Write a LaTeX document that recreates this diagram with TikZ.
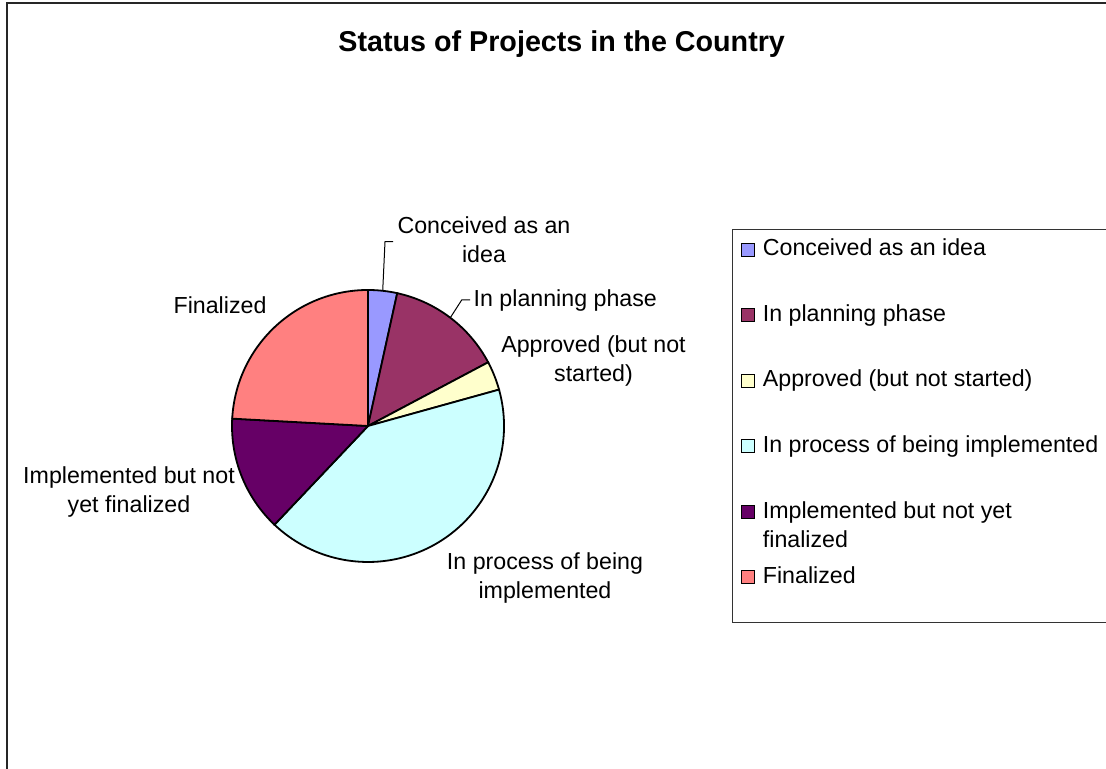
\documentclass[tikz,border=0pt]{standalone}
\usepackage{fontspec}
\setmainfont{Liberation Sans}
\usepackage{tikz}
\usetikzlibrary{calc}
\definecolor{idea}{HTML}{9999FF}
\definecolor{planning}{HTML}{993366}
\definecolor{approved}{HTML}{FFFFCC}
\definecolor{process}{HTML}{CCFFFF}
\definecolor{implemented}{HTML}{660066}
\definecolor{finalized}{HTML}{FF8080}
\def\pieslice[#1](#2)(#3:#4:#5){\draw[#1] (#2) -- ($(#2)+({#5*cos(#3)},{#5*sin(#3)})$) arc (#3:#4:#5) -- cycle;}
\tikzset{
	lbl/.style={font=\fontsize{11.6}{14.5}\selectfont, inner sep=0pt, align=center},
	keybox/.style={draw=black, line width=0.5pt},
	slice/.style={draw=black, line width=0.9pt}
}

\begin{document}
\begin{tikzpicture}[x=0.5pt, y=0.5pt]
		%%%%% START %%%%%
		\useasboundingbox (0, 0) rectangle (1106, 769);
		\draw[line width=0.75pt, color=black!85] (7, 766) rectangle (1120, -20);
		
		\node[font=\bfseries\fontsize{14.35}{17}\selectfont, anchor=base, inner sep=0pt] (title) at (561.7, 717.3) {Status of Projects in the Country};
		
		\coordinate (O) at (368, 343);
		\pieslice[slice, fill=idea](O)(90:77.59:136);
		\pieslice[slice, fill=planning](O)(77.59:27.93:136);
		\pieslice[slice, fill=approved](O)(27.93:15.52:136);
		\pieslice[slice, fill=process](O)(15.52:-133.45:136);
		\pieslice[slice, fill=implemented](O)(-133.45:-183.10:136);
		\pieslice[slice, fill=finalized](O)(-183.10:-270:136);
		
		\node[lbl, anchor=north] (conc) at (484, 552.6) {Conceived as an\\idea};
		\node[lbl, anchor=base west] (plan) at (473.3, 462.3) {In planning phase};
		\node[lbl, anchor=north] (appr) at (593.5, 434.2) {Approved (but not\\started)};
		\node[lbl, anchor=north] (proc) at (545, 216.6) {In process of being\\implemented};
		\node[lbl, anchor=north] (impl) at (129, 302.6) {Implemented but not\\yet finalized};
		\node[lbl, anchor=base] (fin) at (220, 455.7) {Finalized};
		
		\coordinate (concEdge) at ($(O)+(83.79:136)$);
		\coordinate (concBend) at (385, 527.3);
		\draw[line width=0.5pt] (concEdge) -- (concBend) -- ([xshift=-2pt]concBend -| conc.west);
		\coordinate (planEdge) at ($(O)+(52.76:136)$);
		\coordinate (planBend) at (461.7, 469);
		\draw[line width=0.5pt] (planEdge) -- (planBend) -- ([xshift=-1.6pt]planBend -| plan.west);
		
		%% legend
		\draw[line width=0.5pt, color=black!80] (732.7, 539) rectangle (1120, 146);
		
		\draw[keybox, fill=idea] (741.7, 512.5) rectangle (754.3, 525.7);
		\node[lbl, anchor=base west] (keyIdea) at (762.5, 513) {Conceived as an idea};
		\draw[keybox, fill=planning] (741.7, 447) rectangle (754.3, 460.2);
		\node[lbl, anchor=base west] (keyPlan) at (762.5, 447.5) {In planning phase};
		\draw[keybox, fill=approved] (741.7, 381.5) rectangle (754.3, 394.7);
		\node[lbl, anchor=base west] (keyAppr) at (762.5, 382) {Approved (but not started)};
		\draw[keybox, fill=process] (741.7, 316) rectangle (754.3, 329.2);
		\node[lbl, anchor=base west] (keyProc) at (762.5, 316.5) {In process of being implemented};
		\draw[keybox, fill=implemented] (741.7, 250.5) rectangle (754.3, 263.7);
		\node[lbl, anchor=north west, align=left] (keyImpl) at (762.5, 267.9) {Implemented but not yet\\finalized};
		\draw[keybox, fill=finalized] (741.7, 185) rectangle (754.3, 198.2);
		\node[lbl, anchor=base west] (keyFin) at (762.5, 185.5) {Finalized};
		
		%%%%% END %%%%%
\end{tikzpicture}
\end{document}
